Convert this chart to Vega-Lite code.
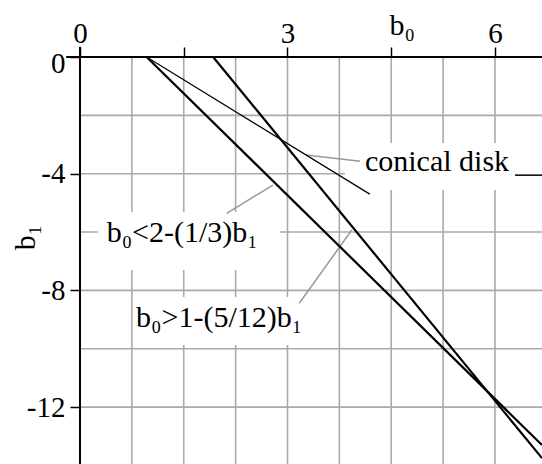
{
  "$schema": "https://vega.github.io/schema/vega-lite/v6.json",
  "width": 462,
  "height": 407,
  "autosize": {"type": "none"},
  "padding": {"left": 80, "top": 57, "right": 0, "bottom": 0},
  "background": "white",
  "config": {
    "view": {"stroke": null},
    "font": "Liberation Serif",
    "text": {"font": "Liberation Serif"}
  },
  "datasets": {
    "vgrid": [
      {"b0": 0.75}, {"b0": 1.5}, {"b0": 2.25}, {"b0": 3.0},
      {"b0": 3.75}, {"b0": 4.5}, {"b0": 5.25}, {"b0": 6.0}
    ],
    "hgrid": [
      {"b1": -2}, {"b1": -4}, {"b1": -6}, {"b1": -8}, {"b1": -10}, {"b1": -12}
    ],
    "masks": [
      {"b0": 0.26, "b0e": 2.89, "b1": -5.31, "b1e": -7.30},
      {"b0": 0.80, "b0e": 3.18, "b1": -8.23, "b1e": -9.87},
      {"b0": 3.83, "b0e": 6.68, "b1": -2.95, "b1e": -4.56}
    ],
    "frame": [
      {"b0": -0.2, "b0e": 6.68, "b1": 0, "b1e": 0},
      {"b0": 0, "b0e": 0, "b1": 0.35, "b1e": -13.95}
    ],
    "bounds": [
      {"series": "b0>1-(5/12)b1", "b0": 0.963, "b1": 0},
      {"series": "b0>1-(5/12)b1", "b0": 6.68, "b1": -13.3},
      {"series": "b0<2-(1/3)b1", "b0": 1.925, "b1": 0},
      {"series": "b0<2-(1/3)b1", "b0": 6.68, "b1": -13.75}
    ],
    "disk": [
      {"series": "conical disk", "b0": 0.963, "b1": 0},
      {"series": "conical disk", "b0": 4.19, "b1": -4.70}
    ],
    "leaders": [
      {"b0": 3.27, "b1": -3.36, "b0e": 4.05, "b1e": -3.57},
      {"b0": 2.12, "b1": -5.36, "b0e": 2.79, "b1e": -4.39},
      {"b0": 3.17, "b1": -8.44, "b0e": 3.93, "b1e": -5.93}
    ],
    "dash": [
      {"b0": 6.29, "b0e": 6.68, "b1": -4.05, "b1e": -4.05}
    ],
    "labels": [
      {"text": "conical disk", "b0": 4.12, "b1": -3.91},
      {"text": "b₀<2-(1/3)b₁", "b0": 0.385, "b1": -6.33},
      {"text": "b₀>1-(5/12)b₁", "b0": 0.81, "b1": -9.25}
    ]
  },
  "encoding": {
    "x": {
      "field": "b0",
      "type": "quantitative",
      "scale": {"domain": [0, 6.68], "nice": false, "zero": false},
      "axis": {
        "orient": "top",
        "values": [0, 1.5, 3, 4.5, 6],
        "labelExpr": "datum.value % 3 === 0 ? '' + datum.value : ''",
        "labelOverlap": false,
        "labelFlush": false,
        "domain": false,
        "grid": false,
        "ticks": true,
        "tickSize": 10,
        "tickWidth": 1.5,
        "tickColor": "black",
        "labelFont": "Liberation Serif",
        "labelFontSize": 29,
        "labelColor": "black",
        "labelBaseline": "alphabetic",
        "labelPadding": 5,
        "title": "b₀",
        "titleFont": "Liberation Serif",
        "titleFontSize": 30,
        "titleFontWeight": "normal",
        "titleColor": "black",
        "titleAlign": "left",
        "titleBaseline": "alphabetic",
        "titleX": 309,
        "titleY": -23
      }
    },
    "y": {
      "field": "b1",
      "type": "quantitative",
      "scale": {"domain": [-13.95, 0], "nice": false, "zero": false},
      "axis": {
        "orient": "left",
        "values": [0, -4, -8, -12],
        "labelExpr": "'' + datum.value",
        "labelOverlap": false,
        "labelFlush": false,
        "domain": false,
        "grid": false,
        "ticks": true,
        "tickSize": 10,
        "tickWidth": 1.5,
        "tickColor": "black",
        "labelFont": "Liberation Serif",
        "labelFontSize": 29,
        "labelColor": "black",
        "labelBaseline": "middle",
        "labelPadding": 5,
        "labelOffset": {"condition": {"test": "datum.value === 0", "value": 6}, "value": 0},
        "title": "b₁",
        "titleFont": "Liberation Serif",
        "titleFontSize": 30,
        "titleFontWeight": "normal",
        "titleColor": "black",
        "titleAngle": 270,
        "titleAlign": "center",
        "titleBaseline": "middle",
        "titleX": -55,
        "titleY": 180
      }
    }
  },
  "layer": [
    {
      "data": {"name": "vgrid"},
      "mark": {"type": "rule", "color": "#aaaaaa", "strokeWidth": 1.6},
      "encoding": {"y": null}
    },
    {
      "data": {"name": "hgrid"},
      "mark": {"type": "rule", "color": "#aaaaaa", "strokeWidth": 1.6},
      "encoding": {"x": null}
    },
    {
      "data": {"name": "masks"},
      "mark": {"type": "rect", "fill": "white"},
      "encoding": {"x2": {"field": "b0e"}, "y2": {"field": "b1e"}}
    },
    {
      "data": {"name": "frame"},
      "mark": {"type": "rule", "color": "black", "strokeWidth": 2},
      "encoding": {"x2": {"field": "b0e"}, "y2": {"field": "b1e"}}
    },
    {
      "data": {"name": "leaders"},
      "mark": {"type": "rule", "color": "#999999", "strokeWidth": 1.5},
      "encoding": {"x2": {"field": "b0e"}, "y2": {"field": "b1e"}}
    },
    {
      "data": {"name": "dash"},
      "mark": {"type": "rule", "color": "black", "strokeWidth": 1.5},
      "encoding": {"x2": {"field": "b0e"}, "y2": {"field": "b1e"}}
    },
    {
      "data": {"name": "disk"},
      "mark": {"type": "line", "color": "black", "strokeWidth": 1.2},
      "encoding": {"detail": {"field": "series"}}
    },
    {
      "data": {"name": "bounds"},
      "mark": {"type": "line", "color": "black", "strokeWidth": 2.2},
      "encoding": {"detail": {"field": "series"}}
    },
    {
      "data": {"name": "labels"},
      "mark": {"type": "text", "align": "left", "baseline": "alphabetic", "fontSize": 30, "color": "black"},
      "encoding": {"text": {"field": "text"}}
    }
  ]
}
